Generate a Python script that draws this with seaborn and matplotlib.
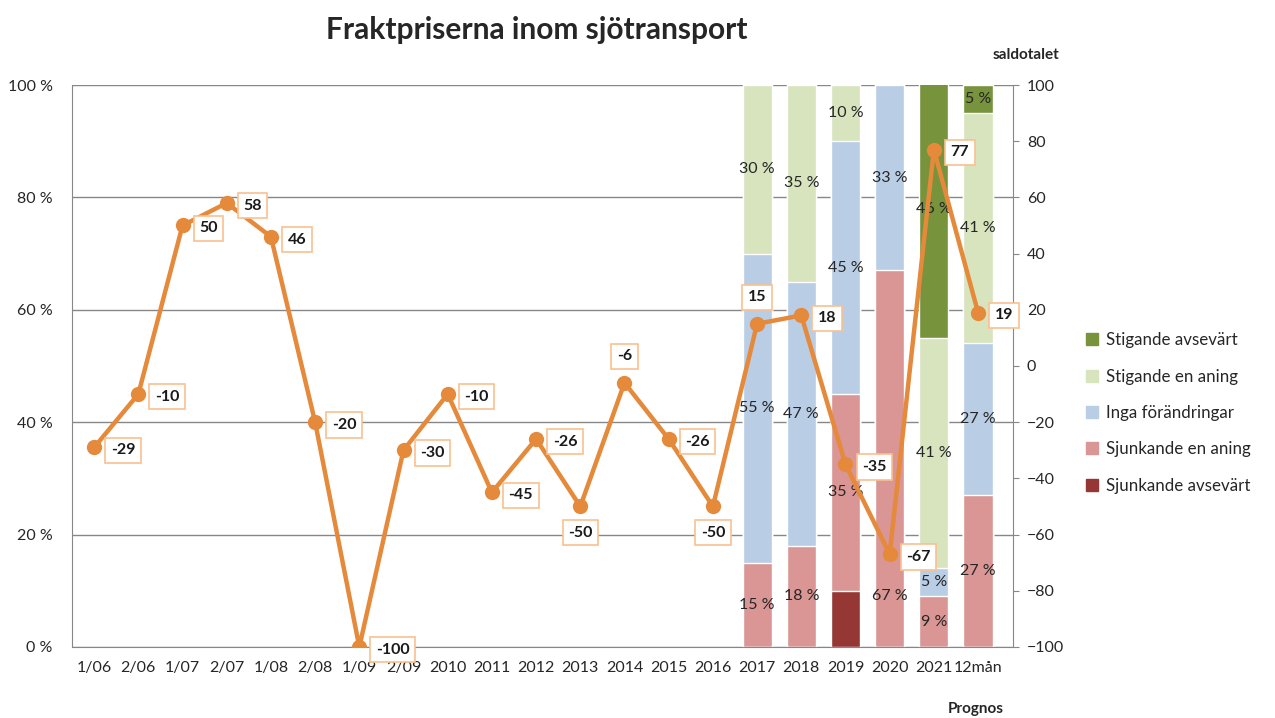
import numpy as np
import pandas as pd
import matplotlib.pyplot as plt
import seaborn as sns
from matplotlib.patches import Patch

# ── Data ──────────────────────────────────────────────────────────────────────
periods = ["1/06", "2/06", "1/07", "2/07", "1/08", "2/08", "1/09", "2/09",
           "2010", "2011", "2012", "2013", "2014", "2015", "2016",
           "2017", "2018", "2019", "2020", "2021", "12mån"]
saldo = [-29, -10, 50, 58, 46, -20, -100, -30, -10, -45, -26, -50,
         -6, -26, -50, 15, 18, -35, -67, 77, 19]

survey_years = ["2017", "2018", "2019", "2020", "2021", "12mån"]
sjunk_avs = [0, 0, 10, 0, 0, 0]
sjunk_aning = [15, 18, 35, 67, 9, 27]
inga = [55, 47, 45, 33, 5, 27]
stig_aning = [30, 35, 10, 0, 41, 41]
stig_avs = [0, 0, 0, 0, 46, 5]

series_names = ["Sjunkande avsevärt", "Sjunkande en aning", "Inga förändringar",
                "Stigande en aning", "Stigande avsevärt"]
series_vals = [sjunk_avs, sjunk_aning, inga, stig_aning, stig_avs]
colors = ["#953735", "#D99694", "#B9CDE5", "#D7E4BD", "#77933C"]
show_label = [False, True, True, True, True]

# the 2020 "67 %" label sits low in the bar in the original (moved by hand)
label_pos_override = {("Sjunkande en aning", "2020"): 9}

# label placement for the saldo boxes: r = right, a = above, b = below
label_side = ["r"] * len(saldo)
label_side[11] = "b"
label_side[12] = "a"
label_side[14] = "b"
label_side[15] = "a"

ORANGE = "#E5893B"
GRID = "#878787"

# ── Figure ────────────────────────────────────────────────────────────────────
sns.set_style("white")
plt.rcParams["font.family"] = ["Lato", "DejaVu Sans"]

fig = plt.figure(figsize=(12.75, 7.18), dpi=100)
ax = fig.add_axes([0.0565, 0.099, 0.738, 0.7826])

df = pd.DataFrame({"period": survey_years})
for name, vals in zip(series_names, series_vals):
    df[name] = vals
cum = df[series_names].cumsum(axis=1)

# stacked bars: draw cumulative totals from the top down
for i in range(len(series_names) - 1, -1, -1):
    sns.barplot(x=df["period"], y=cum[series_names[i]], order=periods,
                color=colors[i], saturation=1, width=0.66, errorbar=None,
                ax=ax, zorder=2)

# segment labels
for i, name in enumerate(series_names):
    if not show_label[i]:
        continue
    for j, p in enumerate(survey_years):
        v = df.loc[j, name]
        if v <= 0:
            continue
        mid = cum.loc[j, name] - v / 2
        mid = label_pos_override.get((name, p), mid)
        ax.text(periods.index(p), mid, f"{v} %", ha="center", va="center",
                fontsize=11.5, color="#262626", zorder=3)

XMAX = len(periods) - 0.21
ax.set_xlim(-0.5, XMAX)
ax.set_ylim(0, 100)
ax.set_yticks(range(0, 101, 20))
ax.set_yticklabels([f"{t} %" for t in range(0, 101, 20)])
ax.yaxis.grid(True, color=GRID, linewidth=1)
ax.set_axisbelow(True)
ax.set_xlabel("")
ax.set_ylabel("")
ax.tick_params(axis="both", labelsize=11.5, colors="#262626", length=0)
ax.tick_params(axis="y", pad=14)
ax.tick_params(axis="x", pad=10)
for side in ["top", "right"]:
    ax.spines[side].set_visible(False)
for side in ["left", "bottom"]:
    ax.spines[side].set_color(GRID)

# ── Saldo line on right axis ──────────────────────────────────────────────────
ax2 = ax.twinx()
line_df = pd.DataFrame({"pos": np.arange(len(periods)), "saldo": saldo})
sns.lineplot(data=line_df, x="pos", y="saldo", ax=ax2, color=ORANGE,
             linewidth=3.2, marker="o", markersize=11, markeredgewidth=0,
             zorder=5)
ax2.set_ylim(-100, 100)
ax2.set_yticks(range(-100, 101, 20))
ax2.set_ylabel("")
ax2.set_xlabel("")
ax2.tick_params(axis="y", labelsize=11.5, labelcolor="#262626", length=4,
                direction="out", pad=6, color=GRID)
for side in ["top", "left", "bottom"]:
    ax2.spines[side].set_visible(False)
ax2.spines["right"].set_color(GRID)

box = dict(boxstyle="square,pad=0.35", fc="white", ec="#FAC090", lw=1.2)
for x, v, s in zip(range(len(periods)), saldo, label_side):
    if s == "r":
        off, ha, va = (12, -2), "left", "center"
    elif s == "a":
        off, ha, va = (0, 14), "center", "bottom"
    else:
        off, ha, va = (0, -14), "center", "top"
    ax2.annotate(str(v), (x, v), xytext=off, textcoords="offset points",
                 ha=ha, va=va, fontsize=11.5, fontweight="bold",
                 color="#1a1a1a", bbox=box, zorder=6, annotation_clip=False)

ax2.set_xlim(-0.5, XMAX)

# ── Texts & legend ────────────────────────────────────────────────────────────
fig.text(0.421, 0.958, "Fraktpriserna inom sjötransport", fontsize=21.5,
         fontweight="bold", ha="center", va="center")
fig.text(0.805, 0.923, "saldotalet", fontsize=11, fontweight="bold",
         ha="center", va="center")
fig.text(0.787, 0.012, "Prognos", fontsize=11, fontweight="bold",
         ha="right", va="center")

handles = [Patch(color=colors[i], label=series_names[i])
           for i in range(len(series_names) - 1, -1, -1)]
fig.legend(handles=handles, loc="center left", bbox_to_anchor=(0.84, 0.425),
           frameon=False, fontsize=12.2, handlelength=0.7, handleheight=0.7,
           handletextpad=0.45, labelspacing=1.2)

fig.savefig("out.png", dpi=100)
